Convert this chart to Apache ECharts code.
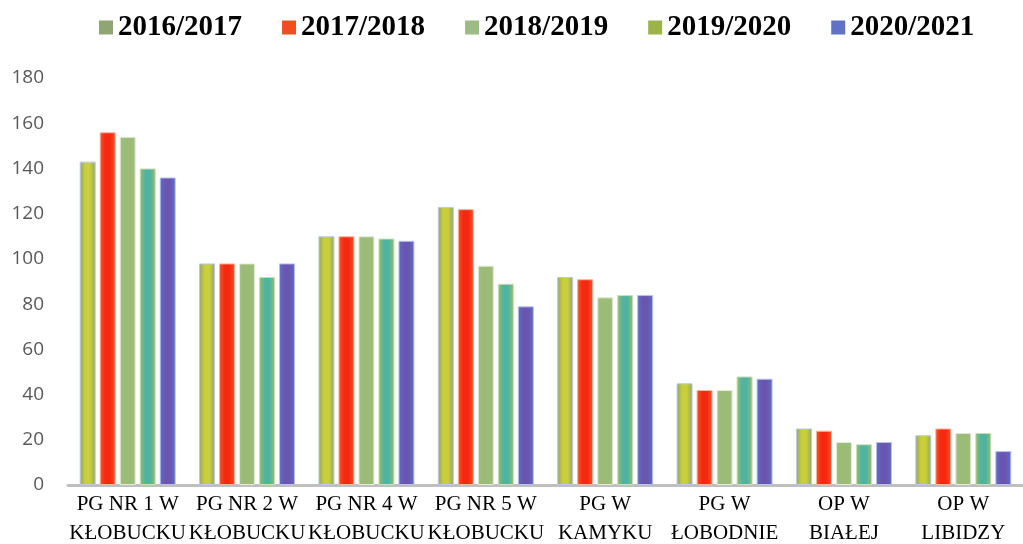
<!DOCTYPE html>
<html>
<head>
<meta charset="utf-8">
<script src="https://cdn.jsdelivr.net/npm/echarts@6/dist/echarts.min.js"></script>
<style>
  html, body { margin: 0; padding: 0; background: #fff; }
  #chart { width: 1023px; height: 544px; }
</style>
</head>
<body>
<div id="chart"></div>
<script>
const categories = [
  'PG NR 1 W\nKŁOBUCKU', 'PG NR 2 W\nKŁOBUCKU', 'PG NR 4 W\nKŁOBUCKU', 'PG NR 5 W\nKŁOBUCKU',
  'PG W\nKAMYKU', 'PG W\nŁOBODNIE', 'OP W\nBIAŁEJ', 'OP W\nLIBIDZY'
];
const seriesNames = ['2016/2017', '2017/2018', '2018/2019', '2019/2020', '2020/2021'];
const y2016 = [143, 98, 110, 123, 92, 45, 25, 22];
const y2017 = [156, 98, 110, 122, 91, 42, 24, 25];
const y2018 = [154, 98, 110, 97, 83, 42, 19, 23];
const y2019 = [140, 92, 109, 89, 84, 48, 18, 23];
const y2020 = [136, 98, 108, 79, 84, 47, 19, 15];
const yTicks = [0, 20, 40, 60, 80, 100, 120, 140, 160, 180];

// edge / centre / border colours for each series (gradient fills)
const fills = [
  { edge: '#93a26c', mid: '#c8cf3a', border: '#b9cbe6', icon: '#8fa573' },
  { edge: '#f2562d', mid: '#f52910', border: '#f7b49c', icon: '#f04e1f' },
  { edge: '#a1bd80', mid: '#9bbb76', border: '#e3ecd8', icon: '#9dbb84' },
  { edge: '#9cbd66', mid: '#4fb3a2', border: '#c9dfb9', icon: '#9db24a' },
  { edge: '#5d6fc6', mid: '#6a56b0', border: '#b6c2ea', icon: '#5f72c6' }
];

const grad = f => new echarts.graphic.LinearGradient(0, 0, 1, 0, [
  { offset: 0, color: f.edge },
  { offset: 0.35, color: f.mid },
  { offset: 0.65, color: f.mid },
  { offset: 1, color: f.edge }
]);

const values = [y2016, y2017, y2018, y2019, y2020];

const chart = echarts.init(document.getElementById('chart'));
chart.setOption({
  animation: false,
  legend: {
    top: 8,
    left: 94,
    itemWidth: 14,
    itemHeight: 14,
    itemGap: 40,
    icon: 'rect',
    textStyle: {
      fontFamily: 'Liberation Serif',
      fontWeight: 'bold',
      fontSize: 29,
      color: '#000'
    },
    data: seriesNames.map((n, i) => ({ name: n, itemStyle: { color: fills[i].icon, borderWidth: 0 } }))
  },
  grid: { left: 68, right: 0, top: 78, bottom: 59, outerBoundsMode: 'none' },
  xAxis: {
    type: 'category',
    data: categories,
    axisLine: { lineStyle: { color: '#bfbfbf', width: 3 } },
    axisTick: { show: false },
    axisLabel: {
      interval: 0,
      margin: 5,
      fontFamily: 'Liberation Serif',
      fontSize: 21,
      lineHeight: 29,
      color: '#000'
    }
  },
  yAxis: {
    type: 'value',
    min: yTicks[0],
    max: yTicks[yTicks.length - 1],
    interval: 20,
    splitLine: { show: false },
    axisLine: { show: false },
    axisTick: { show: false },
    axisLabel: {
      margin: 24,
      fontFamily: 'Open Sans',
      fontSize: 19,
      color: '#595959'
    }
  },
  series: seriesNames.map((n, i) => ({
    name: n,
    type: 'bar',
    data: values[i],
    barWidth: 16,
    barGap: '25%',
    itemStyle: { color: grad(fills[i]), borderColor: fills[i].border, borderWidth: 1 }
  }))
});
</script>
</body>
</html>
